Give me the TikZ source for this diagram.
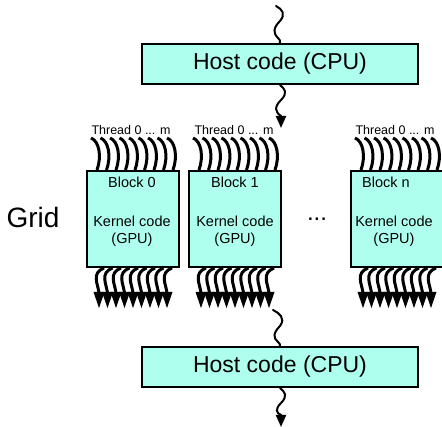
\documentclass[tikz,border=0pt]{standalone}
\usepackage{fontspec}
\setmainfont{Liberation Sans}
\usetikzlibrary{arrows.meta}
\definecolor{boxfill}{RGB}{175,255,238}
\tikzset{
  hostbox/.style={draw=black, line width=2pt, fill=boxfill, minimum width=276pt,
    minimum height=40pt, inner sep=0pt, font=\fontsize{23}{27}\selectfont},
  blockbox/.style={draw=black, line width=2pt, fill=boxfill, minimum width=92pt,
    minimum height=96pt, inner sep=0pt},
  blocktext/.style={font=\fontsize{14.5}{17}\selectfont, inner sep=0pt, align=center},
  threadlabel/.style={font=\fontsize{12.5}{15}\selectfont, inner sep=0pt},
  squiggle/.style={line width=2pt, line cap=round},
  flowarrow/.style={squiggle, -{Triangle[width=10pt,length=12pt]}},
  thread/.style={line width=3pt},
}
\begin{document}
\begin{tikzpicture}[x=1pt, y=-1pt]
\useasboundingbox (0,0) rectangle (442,427);

% host code boxes
\node[hostbox] (host1) at (280,64) {Host code (CPU)};
\node[hostbox] (host2) at (280,367) {Host code (CPU)};

% kernel blocks of the grid
\node[blockbox] (blk0) at (133,219) {};
\node[blockbox] (blk1) at (235,219) {};
\node[blockbox] (blkn) at (397,219) {};

\node[blocktext] (b0t) at (132,182) {Block 0};
\node[blocktext] (b0k) at (132,231) {Kernel code\\(GPU)};
\node[blocktext] (b1t) at (235,182) {Block 1};
\node[blocktext] (b1k) at (235,231) {Kernel code\\(GPU)};
\node[blocktext] (bnt) at (386,182) {Block n};
\node[blocktext] (bnk) at (394,231) {Kernel code\\(GPU)};

\node[threadlabel] (th0) at (131,130) {Thread 0 ... m};
\node[threadlabel] (th1) at (234,130) {Thread 0 ... m};
\node[threadlabel] (thn) at (395,130) {Thread 0 ... m};

\node[font=\fontsize{28}{32}\selectfont, inner sep=0pt] (grid) at (33,217) {Grid};
\node[font=\fontsize{24}{28}\selectfont, inner sep=0pt] (dots) at (317,219) {...};

% threads entering and leaving every block
\foreach \b in {blk0,blk1,blkn}{
  \begin{scope}[shift={(\b.north west)}]
    \foreach \i in {0,...,8}{
      \pgfmathsetmacro{\xo}{5+9.5*\i}
      \draw[thread] (\xo,-32) .. controls (\xo+8,-29) and (\xo+11,-14) .. (\xo+6,0);
    }
  \end{scope}
  \begin{scope}[shift={(\b.south west)}]
    \foreach \i in {0,...,8}{
      \pgfmathsetmacro{\xt}{13+8.5*\i}
      \draw[thread] (\xt+5,0) .. controls (\xt-8,5) and (\xt-1,16) .. (\xt,25);
      \fill (\xt-5.5,24) -- (\xt+5.5,24) -- (\xt,40) -- cycle;
    }
  \end{scope}
}

% control flow between host and device
\coordinate (start) at (276,6);
\coordinate (tip1) at (281,128);
\coordinate (from2) at (273,310);
\coordinate (tip2) at (281,427);

\draw[squiggle] (start) .. controls (282,9) and (286,14) .. (280,21)
  .. controls (273,28) and (273,33) .. (278,38) .. controls (280,40) .. (host1.north);
\draw[flowarrow] (host1.south) .. controls (285,89) and (288,93) .. (281,100)
  .. controls (274,107) and (275,112) .. (281,116) -- (tip1);

\draw[squiggle] (from2) .. controls (279,313) and (286,318) .. (280,326)
  .. controls (273,333) and (273,338) .. (278,342) .. controls (280,344) .. (host2.north);
\draw[flowarrow] (host2.south) .. controls (285,392) and (288,396) .. (281,403)
  .. controls (275,409) and (276,413) .. (281,415) -- (tip2);
\end{tikzpicture}
\end{document}
